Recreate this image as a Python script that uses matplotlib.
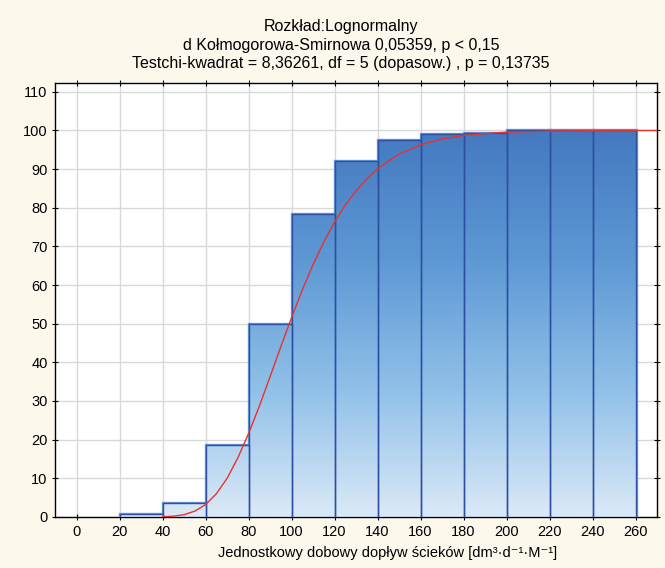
import numpy as np
import matplotlib.pyplot as plt
from matplotlib.colors import LinearSegmentedColormap

# przedzialy histogramu skumulowanego
bin_left = [20, 40, 60, 80, 100, 120, 140, 160, 180, 200, 220, 240]
bin_width = 20
cum_pct = [0.7, 3.7, 18.5, 50.0, 78.5, 92.0, 97.5, 99.2, 99.4, 100.0, 100.0, 100.0]

# krzywa rozkladu lognormalnego
curve_x = [40, 45, 50, 55, 60, 65, 70, 75, 80, 85, 90, 95, 100, 105, 110, 115, 120,
           125, 130, 135, 140, 150, 160, 170, 180, 190, 200, 220, 240, 270]
curve_y = [0.04, 0.18, 0.57, 1.5, 3.2, 6.0, 10.0, 15.3, 21.6, 28.7, 36.3, 44.1, 51.6,
           58.8, 65.3, 71.2, 76.3, 80.7, 84.4, 87.5, 90.1, 93.9, 96.3, 97.8, 98.7,
           99.2, 99.55, 99.85, 99.95, 100.0]

x_ticks = list(range(0, 261, 20))
y_ticks = list(range(0, 111, 10))

title_lines = ["Rozkład:Lognormalny",
               "d Kołmogorowa-Smirnowa 0,05359, p < 0,15",
               "Testchi-kwadrat = 8,36261, df = 5 (dopasow.) , p = 0,13735"]
x_label = "Jednostkowy dobowy dopływ ścieków [dm³·d⁻¹·M⁻¹]"

plt.rcParams['font.family'] = ['Liberation Sans', 'DejaVu Sans']

fig = plt.figure(figsize=(6.65, 5.68), dpi=100, facecolor='#fcf8ec')
ax = fig.add_axes([0.083, 0.09, 0.905, 0.764])
ax.set_facecolor('white')

xmin, xmax, ymin, ymax = -10, 270, 0, 112.3
ax.set_xlim(xmin, xmax)
ax.set_ylim(ymin, ymax)

ax.grid(True, color='#d9d9d9', linewidth=1)
ax.set_axisbelow(True)

cmap = LinearSegmentedColormap.from_list('niebieski', ['#dbe9f7', '#8fc0e8', '#5d98d4', '#4479c0'])
grad = np.linspace(0, 1, 256).reshape(-1, 1)

# obwodka z jasniejszym brzegiem (efekt 3D)
ax.bar(bin_left, cum_pct, width=bin_width, align='edge', facecolor='none',
       edgecolor='#6a9bd6', linewidth=2.4, zorder=3)
bars = ax.bar(bin_left, cum_pct, width=bin_width, align='edge', facecolor='none',
              edgecolor='#2c4fa3', linewidth=1.0, zorder=4)
for b in bars:
    im = ax.imshow(grad, cmap=cmap, origin='lower', aspect='auto',
                   extent=[xmin, xmax, 0, 100], zorder=3.5, interpolation='bilinear')
    im.set_clip_path(b)

ax.plot(curve_x, curve_y, color='#e8322e', linewidth=1.0, zorder=5, clip_on=True)

ax.set_xticks(x_ticks)
ax.set_yticks(y_ticks)
ax.tick_params(axis='both', labelsize=10.5, length=4, width=0.8, colors='black',
               top=True, right=True, direction='inout')
ax.tick_params(axis='x', pad=4)
for s in ax.spines.values():
    s.set_linewidth(1.0)
    s.set_color('black')

for i, line in enumerate(title_lines):
    fig.text(0.513, 0.953 - i * 0.0325, line, ha='center', va='center', fontsize=11.5)

fig.text(0.583, 0.026, x_label, ha='center', va='center', fontsize=10.5)

fig.savefig('out.png', dpi=100, facecolor=fig.get_facecolor())
